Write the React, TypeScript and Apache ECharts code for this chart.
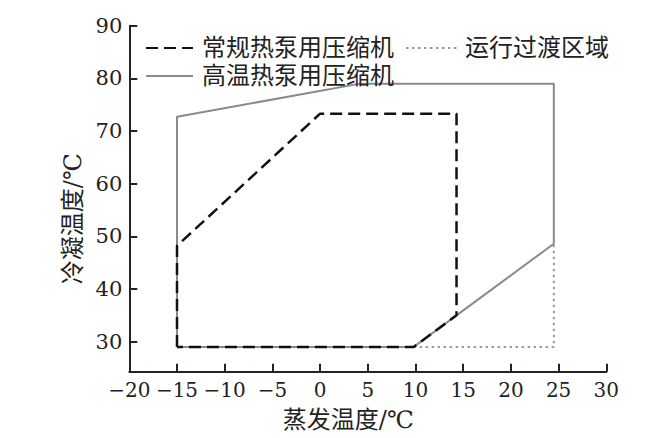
import React, { useEffect, useRef } from "react";
import * as echarts from "echarts";

const seriesNames = ["常规热泵用压缩机", "高温热泵用压缩机", "运行过渡区域"];
const xAxisName = "蒸发温度/℃";
const yAxisName = "冷凝温度/℃";
const yTickValues = [30, 40, 50, 60, 70, 80, 90];

// [evaporating temp, condensing temp]
const conventional: number[][] = [
  [-15, 29], [-15, 48.2], [0, 73.3], [14.3, 73.3], [14.3, 35], [9.8, 29], [-15, 29],
];
const highTemp: number[][] = [
  [-15, 29], [-15, 72.7], [4.2, 79], [24.5, 79], [24.5, 48.6], [14.3, 35], [9.8, 29], [-15, 29],
];
const transition: number[][] = [
  [9.8, 29], [24.5, 29], [24.5, 48.6],
];

const FONT = "DejaVu Serif, Noto Sans CJK SC, serif";

export default function App() {
  const ref = useRef<HTMLDivElement>(null);
  useEffect(() => {
    if (!ref.current) return;
    const chart = echarts.init(ref.current, null, { renderer: "svg" });
    const legendText = { fontSize: 24, color: "#222", fontFamily: FONT };
    chart.setOption({
      animation: false,
      backgroundColor: "#ffffff",
      textStyle: { fontFamily: FONT },
      grid: { left: 129.3, right: 65.7, top: 25.7, bottom: 66.3, containLabel: false },
      legend: [
        {
          data: [seriesNames[0], seriesNames[1]],
          orient: "vertical",
          left: 140,
          top: 31,
          itemWidth: 47,
          itemHeight: 14,
          itemGap: 4,
          itemStyle: { color: "transparent", borderWidth: 0, opacity: 0 },
          textStyle: { ...legendText, padding: [0, 0, 0, 4] },
        },
        {
          data: [seriesNames[2]],
          orient: "vertical",
          left: 400,
          top: 31,
          itemWidth: 52,
          itemHeight: 14,
          itemStyle: { color: "transparent", borderWidth: 0, opacity: 0 },
          textStyle: { ...legendText, padding: [0, 0, 0, 2] },
        },
      ],
      xAxis: {
        type: "value",
        min: -20,
        max: 30,
        interval: 5,
        name: xAxisName,
        nameLocation: "middle",
        nameGap: 36,
        nameTextStyle: { fontSize: 24, color: "#222", fontFamily: FONT, padding: [0, 39, 0, 0] },
        axisLine: { show: true, onZero: false, lineStyle: { color: "#222", width: 2 } },
        axisTick: { show: true, inside: true, length: 8, lineStyle: { color: "#222", width: 2 } },
        axisLabel: {
          fontSize: 20,
          color: "#222",
          fontFamily: FONT,
          margin: 8,
          formatter: (v: number) => String(v).replace("-", "\u2212"),
        },
        splitLine: { show: false },
      },
      yAxis: {
        type: "value",
        min: 24.3,
        max: 90,
        name: yAxisName,
        nameLocation: "middle",
        nameGap: 44,
        nameRotate: 90,
        nameTextStyle: { fontSize: 24, color: "#222", fontFamily: FONT, padding: [0, 40, 0, 0] },
        axisLine: { show: true, onZero: false, lineStyle: { color: "#222", width: 2 } },
        axisTick: {
          show: true,
          inside: true,
          length: 8,
          customValues: yTickValues,
          lineStyle: { color: "#222", width: 2 },
        },
        axisLabel: {
          fontSize: 21,
          color: "#222",
          fontFamily: FONT,
          margin: 7,
          customValues: yTickValues,
        },
        splitLine: { show: false },
      },
      series: [
        {
          name: seriesNames[1],
          type: "line",
          data: highTemp,
          symbol: "none",
          z: 2,
          lineStyle: { color: "#8a8a8a", width: 2 },
          itemStyle: { color: "#8a8a8a" },
        },
        {
          name: seriesNames[2],
          type: "line",
          data: transition,
          symbol: "none",
          z: 3,
          lineStyle: { color: "#9a9a9a", width: 2, type: [2.5, 3.5] },
          itemStyle: { color: "#9a9a9a" },
        },
        {
          name: seriesNames[0],
          type: "line",
          data: conventional,
          symbol: "none",
          z: 4,
          lineStyle: { color: "#111", width: 2.5, type: [12, 6] },
          itemStyle: { color: "#111" },
        },
      ],
    });
    return () => chart.dispose();
  }, []);
  return (
    <div
      ref={ref}
      style={{ position: "fixed", left: 0, top: 0, width: 672, height: 438, background: "#fff" }}
    />
  );
}
